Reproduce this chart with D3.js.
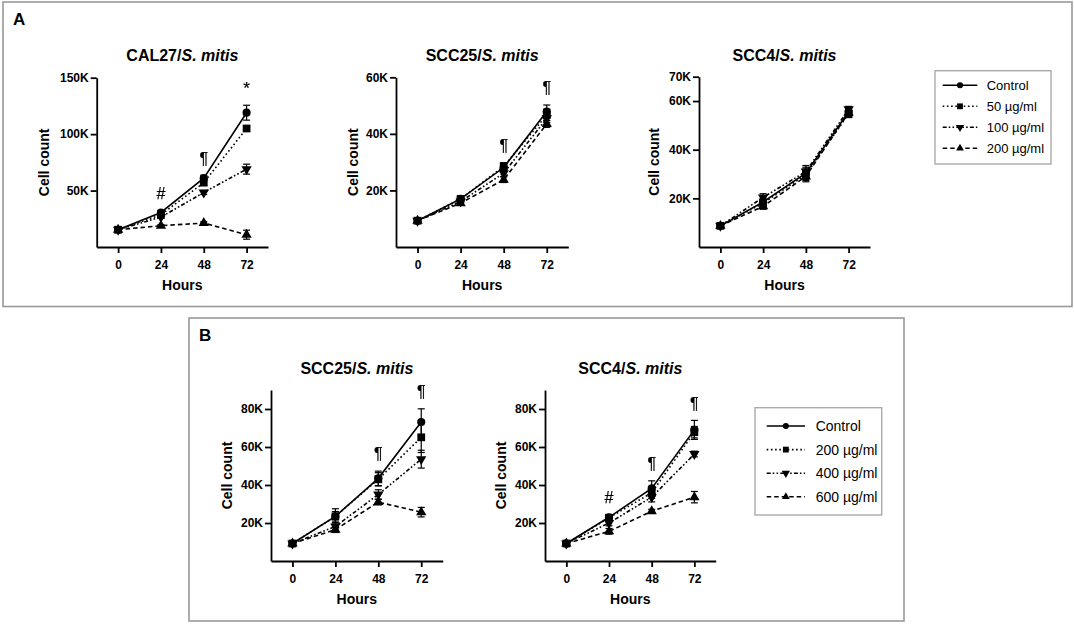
<!DOCTYPE html>
<html>
<head>
<meta charset="utf-8">
<script src="https://cdn.jsdelivr.net/npm/d3@7"></script>
<style>
  body { margin: 0; background: #fff; }
  svg { display: block; font-family: Arial, "Liberation Sans", Helvetica, sans-serif; }
  .mark { will-change: transform; }
</style>
</head>
<body>
<svg id="chart" width="1074" height="625"></svg>
<script>
// x categories (hours)
const hours = [0, 24, 48, 72];

// legend labels
const seriesA = ["Control", "50 µg/ml", "100 µg/ml", "200 µg/ml"];
const seriesB = ["Control", "200 µg/ml", "400 µg/ml", "600 µg/ml"];

// panel A, CAL27 - mean cell counts per series (rows follow seriesA)
const cal27Means = [
    [15300, 30600, 61000, 119000],
    [15300, 28600, 57000, 105000],
    [15300, 26500, 48300, 69000],
    [15300, 18900, 21200, 10900]
];
const cal27Errors = [
    [1000, 1800, 2500, 6600],
    [1000, 1500, 2200, 2000],
    [1000, 1200, 1800, 4400],
    [1000, 1000, 1200, 4000]
];
const cal27Marks = ["", "#", "¶", "*"];

// panel A, SCC25
const scc25aMeans = [
    [9300, 17000, 28100, 47900],
    [9300, 17000, 28500, 46700],
    [9300, 16100, 26100, 45500],
    [9300, 15500, 23800, 43500]
];
const scc25aErrors = [
    [400, 900, 1500, 2300],
    [400, 800, 1300, 2000],
    [400, 800, 1200, 1500],
    [400, 700, 1000, 1200]
];
const scc25aMarks = ["", "", "¶", "¶"];

// panel A, SCC4
const scc4aMeans = [
    [8700, 18500, 30300, 55600],
    [8700, 18000, 29700, 54700],
    [8700, 20400, 31000, 56600],
    [8700, 16700, 29000, 55200]
];
const scc4aErrors = [
    [500, 1500, 2500, 1500],
    [500, 1200, 2400, 1500],
    [500, 1500, 2500, 1200],
    [500, 1200, 2200, 1200]
];
const scc4aMarks = ["", "", "", ""];

// panel B, SCC25
const scc25bMeans = [
    [9200, 23500, 43500, 73100],
    [9200, 23500, 43000, 65100],
    [9200, 18200, 35000, 53600],
    [9200, 16500, 31000, 25700]
];
const scc25bErrors = [
    [500, 4000, 3800, 7000],
    [500, 2500, 3500, 8000],
    [500, 2000, 2500, 4700],
    [500, 1500, 1500, 2500]
];
const scc25bMarks = ["", "", "¶", "¶"];

// panel B, SCC4
const scc4bMeans = [
    [9200, 23000, 38200, 69000],
    [9200, 22700, 35900, 67800],
    [9200, 20000, 33600, 56300],
    [9200, 15600, 26200, 33600]
];
const scc4bErrors = [
    [500, 1500, 4000, 5000],
    [500, 1500, 3000, 3000],
    [500, 1500, 2500, 1500],
    [500, 1500, 1000, 3000]
];
const scc4bMarks = ["", "#", "¶", "¶"];

// y tick values per chart
const ticksCal27 = [50000, 100000, 150000];
const ticksScc25a = [20000, 40000, 60000];
const ticksScc4a = [20000, 40000, 60000, 70000];
const ticksB = [20000, 40000, 60000, 80000];

const svg = d3.select("#chart");

// line dash per series: solid, dotted, dash-dot-dot, dashed
const dashes = [null, "1.6,2.6", "4,2,1.6,2.2,1.6,2.2", "4.5,3"];
const symbols = [
    d3.symbol().type(d3.symbolCircle).size(52),
    d3.symbol().type(d3.symbolSquare).size(60),
    d3.symbol().type(d3.symbolTriangle).size(46),
    d3.symbol().type(d3.symbolTriangle).size(46)
];
const flip = [false, false, true, false];

const fmtK = d => (d / 1000) + "K";

function drawPanelBox(x, y, w, h, label) {
    svg.append("rect")
        .attr("x", x).attr("y", y).attr("width", w).attr("height", h)
        .attr("fill", "none").attr("stroke", "#999").attr("stroke-width", 1.6);
    svg.append("text")
        .attr("x", x + 10).attr("y", y + 23)
        .attr("font-size", 17).attr("font-weight", "bold")
        .text(label);
}

function drawChart(opt) {
    const x = d3.scaleLinear().domain([-12, 84]).range([opt.left, opt.right]);
    const y = d3.scaleLinear().domain([0, opt.yMax]).range([opt.bottom, opt.top]);
    const g = svg.append("g");

    // axes
    const xAxis = g.append("g")
        .attr("transform", `translate(0,${opt.bottom})`)
        .call(d3.axisBottom(x).tickValues(hours).tickSize(6).tickPadding(7).tickSizeOuter(0));
    const yAxis = g.append("g")
        .attr("transform", `translate(${opt.left},0)`)
        .call(d3.axisLeft(y).tickValues(opt.ticks).tickFormat(fmtK).tickSize(6).tickPadding(2).tickSizeOuter(0));
    [xAxis, yAxis].forEach(a => {
        a.select(".domain").attr("stroke", "#000").attr("stroke-width", 1.8);
        a.selectAll(".tick line").attr("stroke", "#000").attr("stroke-width", 1.8);
        a.selectAll(".tick text")
            .attr("fill", "#000").attr("font-size", 12).attr("font-weight", "bold")
            .attr("font-family", "Arial, 'Liberation Sans', sans-serif");
    });

    // title, with italic species
    const cx = (opt.left + opt.right) / 2;
    const title = g.append("text")
        .attr("x", cx).attr("y", opt.titleY)
        .attr("text-anchor", "middle").attr("dominant-baseline", "middle")
        .attr("font-size", 16).attr("font-weight", "bold");
    title.append("tspan").text(opt.cell + "/");
    title.append("tspan").attr("font-style", "italic").text("S. mitis");

    g.append("text")
        .attr("transform", `translate(${opt.left - opt.labelOffset},${(opt.top + opt.bottom) / 2}) rotate(-90)`)
        .attr("text-anchor", "middle").attr("dy", "0.35em")
        .attr("font-size", 14).attr("font-weight", "bold")
        .text("Cell count");
    g.append("text")
        .attr("x", cx).attr("y", opt.bottom + 38)
        .attr("text-anchor", "middle").attr("dy", "0.35em")
        .attr("font-size", 14).attr("font-weight", "bold")
        .text("Hours");

    const line = d3.line().x((d, i) => x(hours[i])).y(d => y(d));

    // draw series from back to front so control ends on top
    for (let s = opt.means.length - 1; s >= 0; s--) {
        const vals = opt.means[s];
        const errs = opt.errors[s];
        const sg = g.append("g");
        sg.append("path")
            .datum(vals)
            .attr("d", line)
            .attr("fill", "none").attr("stroke", "#000").attr("stroke-width", 1.6)
            .attr("stroke-dasharray", dashes[s]);

        // error bars
        const eb = sg.selectAll(".err").data(vals).enter().append("g");
        eb.append("line")
            .attr("x1", (d, i) => x(hours[i])).attr("x2", (d, i) => x(hours[i]))
            .attr("y1", (d, i) => y(d - errs[i])).attr("y2", (d, i) => y(d + errs[i]))
            .attr("stroke", "#000").attr("stroke-width", 1.2);
        [-1, 1].forEach(sign => {
            eb.append("line")
                .attr("x1", (d, i) => x(hours[i]) - 3.5).attr("x2", (d, i) => x(hours[i]) + 3.5)
                .attr("y1", (d, i) => y(d + sign * errs[i])).attr("y2", (d, i) => y(d + sign * errs[i]))
                .attr("stroke", "#000").attr("stroke-width", 1.2);
        });

        sg.selectAll(".pt").data(vals).enter().append("path")
            .attr("d", symbols[s])
            .attr("transform", (d, i) => `translate(${x(hours[i])},${y(d)})` + (flip[s] ? " rotate(180)" : ""))
            .attr("fill", "#000");
    }

    // significance marks above the highest bar at each time point
    opt.marks.forEach((m, i) => {
        if (!m) return;
        const top = d3.max(opt.means, (row, s) => row[i] + opt.errors[s][i]);
        g.append("text")
            .attr("class", "mark")
            .attr("x", x(hours[i])).attr("y", y(top) - 16)
            .attr("text-anchor", "middle").attr("dominant-baseline", "middle")
            .attr("font-size", m === "*" ? 17 : 16)
            .attr("fill", "#000").attr("stroke", "#000").attr("stroke-width", 0.25)
            .attr("font-family", "'Liberation Sans', 'DejaVu Sans', sans-serif")
            .text(m);
    });
}

function drawLegend(opt) {
    const g = svg.append("g");
    g.append("rect")
        .attr("x", opt.x).attr("y", opt.y).attr("width", opt.w).attr("height", opt.h)
        .attr("fill", "#fff").attr("stroke", "#aaa").attr("stroke-width", 1.4);
    opt.labels.forEach((lab, s) => {
        const yy = opt.y + opt.first + s * opt.step;
        g.append("line")
            .attr("x1", opt.x + opt.lineX0).attr("x2", opt.x + opt.lineX1)
            .attr("y1", yy).attr("y2", yy)
            .attr("stroke", "#000").attr("stroke-width", 1.6)
            .attr("stroke-dasharray", dashes[s]);
        g.append("path")
            .attr("d", symbols[s])
            .attr("transform", `translate(${opt.x + (opt.lineX0 + opt.lineX1) / 2},${yy})` + (flip[s] ? " rotate(180) scale(0.8)" : " scale(0.75)"))
            .attr("fill", "#000");
        g.append("text")
            .attr("x", opt.x + opt.textX).attr("y", yy)
            .attr("dy", "0.35em")
            .attr("font-size", opt.fontSize)
            .text(lab);
    });
}

drawPanelBox(3, 2, 1069, 304.5, "A");
drawPanelBox(189, 318, 715, 303, "B");

drawChart({ cell: "CAL27", means: cal27Means, errors: cal27Errors, marks: cal27Marks, ticks: ticksCal27,
    yMax: 150000, left: 96.7, right: 268, top: 77.7, bottom: 247, titleY: 57, labelOffset: 53 });
drawChart({ cell: "SCC25", means: scc25aMeans, errors: scc25aErrors, marks: scc25aMarks, ticks: ticksScc25a,
    yMax: 60000, left: 396, right: 568.3, top: 77.3, bottom: 247, titleY: 57, labelOffset: 43 });
drawChart({ cell: "SCC4", means: scc4aMeans, errors: scc4aErrors, marks: scc4aMarks, ticks: ticksScc4a,
    yMax: 70000, left: 699, right: 870, top: 76.7, bottom: 247, titleY: 57, labelOffset: 45 });
drawChart({ cell: "SCC25", means: scc25bMeans, errors: scc25bErrors, marks: scc25bMarks, ticks: ticksB,
    yMax: 90000, left: 271, right: 442.7, top: 390, bottom: 561, titleY: 370, labelOffset: 44 });
drawChart({ cell: "SCC4", means: scc4bMeans, errors: scc4bErrors, marks: scc4bMarks, ticks: ticksB,
    yMax: 90000, left: 545, right: 715.7, top: 390, bottom: 561, titleY: 370, labelOffset: 44 });

drawLegend({ labels: seriesA, x: 935, y: 70.7, w: 116, h: 93.3, first: 14.6, step: 21,
    lineX0: 7.7, lineX1: 42.3, textX: 51.7, fontSize: 13 });
drawLegend({ labels: seriesB, x: 755, y: 407.7, w: 126.7, h: 107.3, first: 18.3, step: 23.6,
    lineX0: 11.7, lineX1: 50, textX: 60.7, fontSize: 14 });
</script>
</body>
</html>
